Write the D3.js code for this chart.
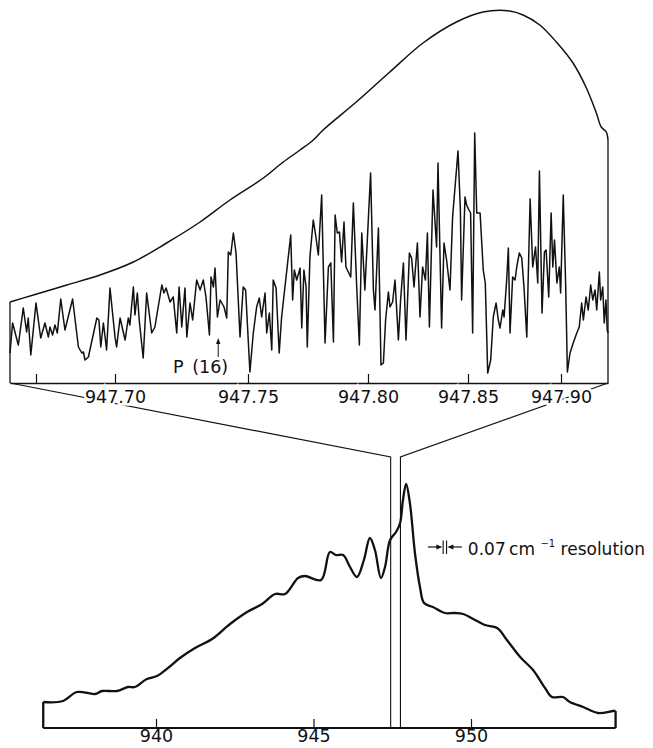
<!DOCTYPE html>
<html>
<head>
<meta charset="utf-8">
<script src="https://cdn.jsdelivr.net/npm/d3@7"></script>
<style>
  body { margin: 0; background: #fff; }
  text { font-family: "DejaVu Sans", sans-serif; fill: #111; }
</style>
</head>
<body>
<div id="chart"></div>
<script>
// ---- data ----

// upper panel: high resolution scan, wavenumber (cm-1) vs signal (arb. units)
var topTicks = [947.67, 947.70, 947.75, 947.80, 947.85, 947.90];
var topTickLabels = ["", "947.70", "947.75", "947.80", "947.85", "947.90"];

// calibration of the recorder chart (scan is not linear in wavenumber)
var topCalWn = [947.66, 947.67, 947.70, 947.75, 947.80, 947.85, 947.90, 947.925];

var scanTrace = [
  [947.6600,30],[947.6610,60],[947.6632,38],[947.6651,75],[947.6664,51],[947.6670,65],[947.6680,28],
  [947.6700,80],[947.6718,45],[947.6734,60],[947.6747,46],[947.6753,56],[947.6763,48],[947.6772,58],
  [947.6781,50],[947.6794,84],[947.6810,53],[947.6839,84],[947.6861,36],[947.6874,30],[947.6880,31],
  [947.6886,23],[947.6899,26],[947.6931,65],[947.6939,63],[947.6946,36],[947.6956,60],[947.6968,33],
  [947.6981,95],[947.7000,46],[947.7006,36],[947.7019,65],[947.7038,43],[947.7050,65],[947.7056,58],
  [947.7069,96],[947.7075,68],[947.7084,90],[947.7091,63],[947.7106,25],[947.7119,90],[947.7138,50],
  [947.7150,56],[947.7176,98],[947.7184,90],[947.7192,95],[947.7207,81],[947.7219,86],[947.7232,50],
  [947.7241,96],[947.7251,56],[947.7263,95],[947.7270,46],[947.7282,80],[947.7292,63],[947.7307,103],
  [947.7320,93],[947.7332,103],[947.7342,86],[947.7355,48],[947.7361,106],[947.7370,96],[947.7376,115],
  [947.7385,66],[947.7395,83],[947.7410,76],[947.7420,65],[947.7426,131],[947.7435,128],[947.7445,150],
  [947.7455,130],[947.7470,46],[947.7482,96],[947.7491,93],[947.7508,11],[947.7522,50],[947.7536,76],
  [947.7547,85],[947.7557,66],[947.7571,90],[947.7578,50],[947.7589,70],[947.7599,33],[947.7605,103],
  [947.7617,95],[947.7630,30],[947.7640,66],[947.7678,148],[947.7686,83],[947.7693,113],[947.7703,103],
  [947.7717,115],[947.7724,55],[947.7733,113],[947.7742,96],[947.7747,36],[947.7758,126],[947.7772,163],
  [947.7783,146],[947.7793,128],[947.7807,188],[947.7821,40],[947.7835,116],[947.7845,120],[947.7856,41],
  [947.7863,168],[947.7872,150],[947.7881,151],[947.7890,121],[947.7900,161],[947.7908,116],[947.7918,111],
  [947.7928,106],[947.7939,180],[947.7953,96],[947.7964,38],[947.7974,150],[947.7987,93],[947.8013,210],
  [947.8027,93],[947.8035,73],[947.8052,155],[947.8065,18],[947.8077,20],[947.8088,63],[947.8102,91],
  [947.8110,76],[947.8123,81],[947.8135,103],[947.8152,43],[947.8163,83],[947.8177,120],[947.8190,43],
  [947.8207,130],[947.8218,125],[947.8230,96],[947.8247,140],[947.8260,66],[947.8273,116],[947.8287,103],
  [947.8297,150],[947.8307,56],[947.8325,193],[947.8343,136],[947.8350,220],[947.8368,55],[947.8380,140],
  [947.8393,123],[947.8410,93],[947.8423,166],[947.8450,232],[947.8462,173],[947.8468,83],[947.8485,186],
  [947.8493,178],[947.8505,173],[947.8514,170],[947.8525,50],[947.8536,250],[947.8547,170],[947.8565,170],
  [947.8582,113],[947.8593,100],[947.8606,10],[947.8622,23],[947.8636,66],[947.8651,80],[947.8663,63],
  [947.8672,55],[947.8687,73],[947.8694,66],[947.8708,103],[947.8717,135],[947.8726,50],[947.8740,106],
  [947.8753,103],[947.8762,116],[947.8776,130],[947.8789,125],[947.8801,96],[947.8816,46],[947.8834,184],
  [947.8848,116],[947.8863,136],[947.8875,100],[947.8884,212],[947.8898,70],[947.8911,131],[947.8920,133],
  [947.8934,86],[947.8947,170],[947.8956,116],[947.8965,143],[947.8978,100],[947.8991,116],[947.8998,90],
  [947.9012,188],[947.9025,96],[947.9034,11],[947.9048,30],[947.9065,40],[947.9084,50],[947.9097,56],
  [947.9110,80],[947.9119,63],[947.9133,86],[947.9145,73],[947.9158,98],[947.9169,83],[947.9181,93],
  [947.9190,73],[947.9204,111],[947.9211,83],[947.9222,96],[947.9230,60],[947.9239,83],[947.9246,53],
  [947.9250,50]
];

// laser power envelope over the same scan
var envelope = [
  [947.6600,81],[947.6690,88],[947.6817,98],[947.6943,108],[947.7069,121],[947.7194,140],[947.7320,161],
  [947.7432,183],[947.7564,205],[947.7647,221],[947.7717,233],[947.7772,243],[947.7813,253],[947.7951,281],
  [947.8109,311],[947.8275,340],[947.8442,361],[947.8581,371],[947.8724,372],[947.8796,368],[947.8886,358],
  [947.8975,341],[947.9064,320],[947.9135,295],[947.9188,270],[947.9214,256],[947.9241,251],[947.9250,243]
];

var p16Wn = 947.7388;
var p16Label = "P\u2002(16)";

// lower panel: low resolution spectrum
var lowTicks = [940, 945, 950];
var lowSpectrum = [
  [936.42,26],[937.05,27],[937.49,36],[938.06,34],[938.29,37],[938.76,37],[939.11,41],[939.33,41],
  [939.71,49],[940.03,52],[940.38,60],[940.76,70],[941.24,80],[941.78,89],[942.35,104],[942.89,116],
  [943.37,124],[943.78,134],[944.10,134],[944.51,150],[944.73,152],[945.24,148],[945.52,176],[945.71,173],
  [945.94,173],[946.16,161],[946.38,151],[946.60,168],[946.79,190],[946.95,178],[947.14,150],[947.27,161],
  [947.43,188],[947.62,196],[947.75,205],[947.84,228],[947.94,244],[948.06,225],[948.22,175],[948.38,141],
  [948.51,125],[948.79,121],[949.17,115],[949.49,115],[949.75,114],[950.13,108],[950.44,103],[950.83,100],
  [951.14,88],[951.56,71],[951.97,58],[952.35,40],[952.57,31],[952.92,31],[953.14,26],[953.56,21],
  [954.03,15],[954.51,17],[954.59,17]
];

var windowWn = [947.45, 947.76];
var windowTop = 271;
var resWn = 949.17, resLevel = 181;

// ---- layout ----
var W = 653, H = 748;
var svg = d3.select("#chart").append("svg")
    .attr("width", W)
    .attr("height", H);

var xTop = d3.scaleLinear()
    .domain(topCalWn)
    .range([10, 36, 115, 248, 368, 468, 561, 608]);
var yTop = d3.scaleLinear().domain([0, 375]).range([383, 8]);

var xLow = d3.scaleLinear().domain([940, 950]).range([156, 471]);
var yLow = d3.scaleLinear().domain([0, 244]).range([728, 484]);

var ink = "#111";

// connecting lines from the upper scan to the window in the lower spectrum
var left0 = topCalWn[0], right0 = topCalWn[topCalWn.length - 1];
var connect = [
  [[xTop(left0), yTop(0)], [xLow(windowWn[0]), yLow(windowTop)], [xLow(windowWn[0]), yLow(0)]],
  [[xTop(right0), yTop(0)], [xLow(windowWn[1]), yLow(windowTop)], [xLow(windowWn[1]), yLow(0)]]
];
svg.selectAll(".connect")
    .data(connect)
    .enter().append("path")
    .attr("d", d3.line())
    .attr("fill", "none")
    .attr("stroke", ink)
    .attr("stroke-width", 1.1);

// upper panel envelope
svg.append("path")
    .datum(envelope)
    .attr("d", d3.line()
        .x(function(d) { return xTop(d[0]); })
        .y(function(d) { return yTop(d[1]); })
        .curve(d3.curveCatmullRom))
    .attr("fill", "none")
    .attr("stroke", ink)
    .attr("stroke-width", 1.5);

// frame sides of upper panel
[envelope[0], envelope[envelope.length - 1]].forEach(function(d) {
  svg.append("line")
      .attr("x1", xTop(d[0])).attr("x2", xTop(d[0]))
      .attr("y1", yTop(0)).attr("y2", yTop(d[1]))
      .attr("stroke", ink).attr("stroke-width", 1.3);
});

// upper panel scan
svg.append("path")
    .datum(scanTrace)
    .attr("d", d3.line()
        .x(function(d) { return xTop(d[0]); })
        .y(function(d) { return yTop(d[1]); }))
    .attr("fill", "none")
    .attr("stroke", ink)
    .attr("stroke-width", 1.5)
    .attr("stroke-linejoin", "round");

// upper axis
var topAxis = svg.append("g")
    .attr("transform", "translate(0," + yTop(0) + ")")
    .call(d3.axisBottom(xTop)
        .tickValues(topTicks)
        .tickFormat(function(d, i) { return topTickLabels[i]; })
        .tickSizeInner(-9)
        .tickSizeOuter(0)
        .tickPadding(8));
topAxis.select(".domain").attr("stroke", ink).attr("stroke-width", 1.6);
topAxis.selectAll(".tick line").attr("stroke", ink).attr("stroke-width", 1.2);
topAxis.selectAll(".tick text")
    .attr("font-size", 17.5)
    .attr("font-family", "DejaVu Sans")
    .attr("fill", ink)
    .attr("stroke", "#fff")
    .attr("stroke-width", 5)
    .attr("paint-order", "stroke");

// P(16) marker
var px = xTop(p16Wn);
svg.append("line")
    .attr("x1", px).attr("x2", px)
    .attr("y1", yTop(26)).attr("y2", yTop(42))
    .attr("stroke", ink).attr("stroke-width", 1);
svg.append("path")
    .attr("d", "M" + px + "," + yTop(45) + "l-2.2,6h4.4z")
    .attr("fill", ink);
svg.append("text")
    .attr("x", px + 10)
    .attr("y", yTop(10))
    .attr("text-anchor", "end")
    .attr("font-size", 17.5)
    .text(p16Label);

// lower spectrum
svg.append("path")
    .datum(lowSpectrum)
    .attr("d", d3.line()
        .x(function(d) { return xLow(d[0]); })
        .y(function(d) { return yLow(d[1]); })
        .curve(d3.curveCatmullRom))
    .attr("fill", "none")
    .attr("stroke", ink)
    .attr("stroke-width", 2.3)
    .attr("stroke-linejoin", "round");

[lowSpectrum[0], lowSpectrum[lowSpectrum.length - 1]].forEach(function(d) {
  svg.append("line")
      .attr("x1", xLow(d[0])).attr("x2", xLow(d[0]))
      .attr("y1", yLow(0)).attr("y2", yLow(d[1]))
      .attr("stroke", ink).attr("stroke-width", 2.3);
});

// lower axis
var lowAxis = svg.append("g")
    .attr("transform", "translate(0," + yLow(0) + ")")
    .call(d3.axisBottom(xLow)
        .tickValues(lowTicks)
        .tickFormat(d3.format("d"))
        .tickSizeInner(-9)
        .tickSizeOuter(0)
        .tickPadding(2));
lowAxis.select(".domain").remove();
lowAxis.selectAll(".tick line").attr("stroke", ink).attr("stroke-width", 1.2);
lowAxis.selectAll(".tick text")
    .attr("font-size", 17.5)
    .attr("font-family", "DejaVu Sans")
    .attr("fill", ink);
svg.append("line")
    .attr("x1", xLow(lowSpectrum[0][0]))
    .attr("x2", xLow(lowSpectrum[lowSpectrum.length - 1][0]))
    .attr("y1", yLow(0)).attr("y2", yLow(0))
    .attr("stroke", ink).attr("stroke-width", 2);

// resolution marker
var rx = xLow(resWn), ry = yLow(resLevel);
var res = svg.append("g");
res.append("line").attr("x1", rx - 17).attr("x2", rx - 6).attr("y1", ry).attr("y2", ry)
    .attr("stroke", ink).attr("stroke-width", 1.2);
res.append("path").attr("d", "M" + (rx - 2.5) + "," + ry + "l-6,-2.5v5z").attr("fill", ink);
res.append("line").attr("x1", rx + 17).attr("x2", rx + 6).attr("y1", ry).attr("y2", ry)
    .attr("stroke", ink).attr("stroke-width", 1.2);
res.append("path").attr("d", "M" + (rx + 2.5) + "," + ry + "l6,-2.5v5z").attr("fill", ink);
[-1.7, 1.7].forEach(function(o) {
  res.append("line").attr("x1", rx + o).attr("x2", rx + o)
      .attr("y1", ry - 6.5).attr("y2", ry + 7)
      .attr("stroke", ink).attr("stroke-width", 1.1);
});
var rt = res.append("text")
    .attr("x", rx + 23)
    .attr("y", ry + 8)
    .attr("font-size", 17);
rt.append("tspan").text("0.07\u2009cm ");
rt.append("tspan").attr("font-size", 10).attr("dy", -8).text("\u22121");
rt.append("tspan").attr("dy", 8).text(" resolution");
</script>
</body>
</html>
